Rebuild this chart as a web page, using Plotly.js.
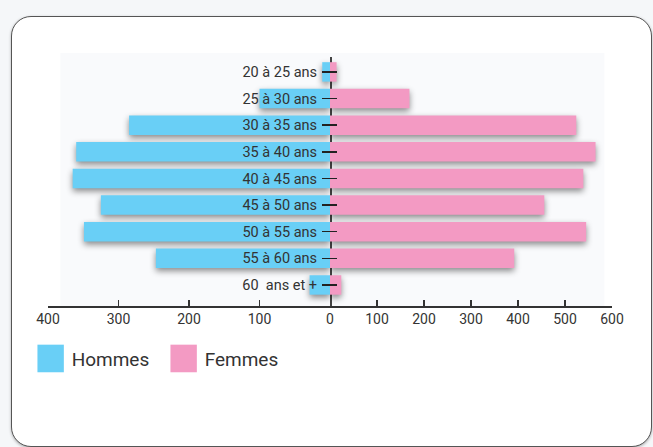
<!DOCTYPE html>
<html><head><meta charset="utf-8">
<script src="https://cdn.plot.ly/plotly-3.0.1.min.js"></script>
<style>
html,body{margin:0;padding:0;width:653px;height:447px;overflow:hidden;background:#f5f7f9;}
#card{position:absolute;left:11px;top:16px;width:641px;height:431px;box-sizing:border-box;border:1.5px solid #555;border-radius:20px;background:#fff;box-shadow:0 1px 3px rgba(0,0,0,0.3);}
#chart{position:absolute;left:0;top:0;width:653px;height:447px;}
.trace.bars .point path{filter:drop-shadow(0px 3px 3px rgba(0,0,0,0.45));}
.legend .scrollbox{clip-path:none !important;}
.legend .legendpoints path{transform:translate(19px,0) scale(2.2,2.3);}
</style></head><body>
<div id="card"></div><div id="chart"></div>
<script>
const ageGroups = ['20 à 25 ans','25 à 30 ans','30 à 35 ans','35 à 40 ans','40 à 45 ans','45 à 50 ans','50 à 55 ans','55 à 60 ans','60\u00a0 ans et +'];
const hommes = [11, 100, 285, 360, 365, 325, 349, 247, 29];
const femmes = [14, 169, 524, 565, 539, 456, 545, 392, 24];
const leftTicks = [400, 300, 200, 100, 0];
const rightTicks = [100, 200, 300, 400, 500, 600];
const seriesNames = ['Hommes', 'Femmes'];
const colors = ['#69cff6', '#f39ac3'];

const traces = [
  {type:'bar', orientation:'h', name:seriesNames[0], y:ageGroups, x:hommes, xaxis:'x', yaxis:'y',
   marker:{color:colors[0]}, hoverinfo:'skip'},
  {type:'bar', orientation:'h', name:seriesNames[1], y:ageGroups, x:femmes, xaxis:'x2', yaxis:'y2',
   marker:{color:colors[1]}, hoverinfo:'skip'}
];
const tickFont = {family:'Roboto, sans-serif', size:14, color:'#333'};
const layout = {
  width:653, height:447,
  margin:{l:47.6, r:41.3, t:57, b:141.3},
  paper_bgcolor:'rgba(0,0,0,0)', plot_bgcolor:'rgba(0,0,0,0)',
  bargap:0.27,
  showlegend:true,
  legend:{orientation:'h', x:-0.029, xanchor:'left', y:-0.135, yanchor:'top',
          font:{family:'Roboto, sans-serif', size:19, color:'#333'}, traceorder:'normal',
          entrywidth:88},
  xaxis:{domain:[0,0.5], range:[400,0], tickvals:leftTicks, showgrid:false, zeroline:false,
         showline:true, linecolor:'#333', linewidth:1.5, ticks:'inside', ticklen:6, tickwidth:1.2, tickcolor:'#333',
         tickfont:tickFont, fixedrange:true},
  xaxis2:{domain:[0.5,1], range:[0,600], tickvals:rightTicks, showgrid:false, zeroline:false,
         showline:true, linecolor:'#333', linewidth:1.5, ticks:'inside', ticklen:6, tickwidth:1.2, tickcolor:'#333',
         tickfont:tickFont, anchor:'y2', fixedrange:true},
  yaxis:{type:'category', range:[8.79,-0.56], anchor:'free', position:0.5, side:'left',
         showline:true, linecolor:'#444', linewidth:1.5, showgrid:false, zeroline:false,
         ticks:'outside', ticklen:8, tickwidth:1.5, tickcolor:'#222', ticklabelstandoff:2,
         tickfont:{family:'Roboto, sans-serif', size:14.5, color:'#333'}, fixedrange:true},
  yaxis2:{type:'category', matches:'y', anchor:'x2', side:'left', showline:false, showgrid:false, zeroline:false,
         ticks:'inside', ticklen:7, tickwidth:1.5, tickcolor:'#222', showticklabels:false, fixedrange:true},
  shapes:[{type:'rect', xref:'paper', yref:'paper', x0:0.022, x1:0.9865, y0:0, y1:1.016,
           fillcolor:'#f9fafc', line:{width:0}, layer:'below'}]
};
Plotly.newPlot('chart', traces, layout, {displayModeBar:false, staticPlot:true});
</script></body></html>
